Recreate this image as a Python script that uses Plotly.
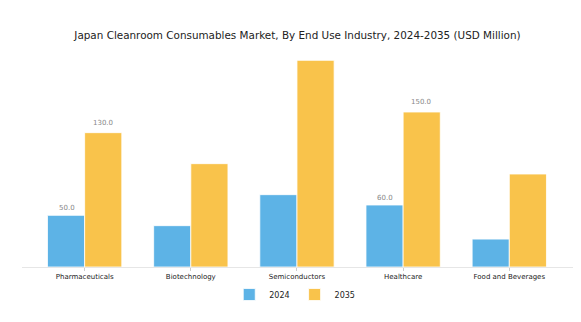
import plotly.graph_objects as go

categories = ["Pharmaceuticals", "Biotechnology", "Semiconductors", "Healthcare", "Food and Beverages"]
values_2024 = [50, 40, 70, 60, 27]
values_2035 = [130, 100, 200, 150, 90]
labels_2024 = ["50.0", "", "", "60.0", ""]
labels_2035 = ["130.0", "", "", "150.0", ""]

BLUE = "#5DB3E6"
YELLOW = "#F9C34B"

fig = go.Figure()
fig.add_trace(go.Bar(name="2024", x=categories, y=values_2024, marker=dict(color=BLUE, line=dict(color="white", width=0.8))))
fig.add_trace(go.Bar(name="2035", x=categories, y=values_2035, marker=dict(color=YELLOW, line=dict(color="white", width=0.8))))

annotations = []
for i, (v, t) in enumerate(zip(values_2024, labels_2024)):
    if t:
        annotations.append(dict(x=i, y=v, text=t, xref="x", yref="y", showarrow=False,
                                xshift=-18, yshift=7, font=dict(size=7, color="#888888")))
for i, (v, t) in enumerate(zip(values_2035, labels_2035)):
    if t:
        annotations.append(dict(x=i, y=v, text=t, xref="x", yref="y", showarrow=False,
                                xshift=18, yshift=10, font=dict(size=7, color="#888888")))

fig.update_layout(
    width=581, height=322,
    margin=dict(l=22, r=8, t=50, b=55),
    paper_bgcolor="white", plot_bgcolor="white",
    barmode="group", bargap=0.3, bargroupgap=0,
    font=dict(family="DejaVu Sans", color="#222222"),
    title=dict(text="Japan Cleanroom Consumables Market, By End Use Industry, 2024-2035 (USD Million)",
               x=0.512, xanchor="center", y=0.89, yanchor="middle", font=dict(size=10.4, color="#222222")),
    xaxis=dict(range=[-0.59, 4.6], showline=True, linecolor="#e6e6e6", linewidth=1,
               ticks="outside", ticklen=3, tickcolor="#cccccc",
               tickfont=dict(size=7, color="#222222"), showgrid=False),
    yaxis=dict(range=[0, 210], visible=False, showgrid=False),
    legend=dict(orientation="h", x=0.495, xanchor="center", y=-0.06, yanchor="top",
                bgcolor="rgba(0,0,0,0)",
                font=dict(size=8, color="#222222"), itemwidth=30, tracegroupgap=0),
    annotations=annotations,
)

fig.write_html("out.html")
